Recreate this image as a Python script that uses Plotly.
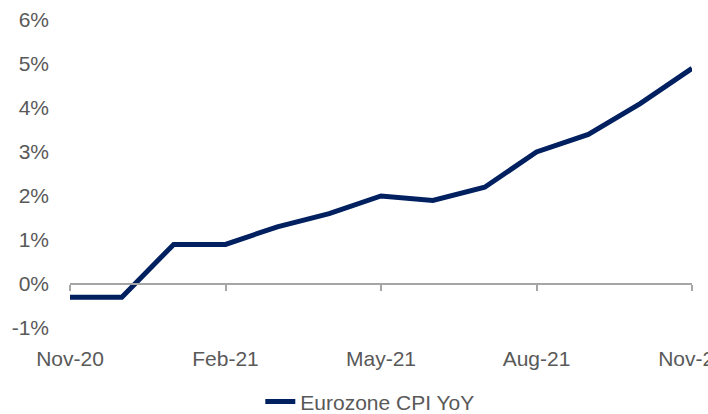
import plotly.graph_objects as go

months = ["Nov-20", "Dec-20", "Jan-21", "Feb-21", "Mar-21", "Apr-21", "May-21",
          "Jun-21", "Jul-21", "Aug-21", "Sep-21", "Oct-21", "Nov-21"]
cpi_yoy = [-0.3, -0.3, 0.9, 0.9, 1.3, 1.6, 2.0, 1.9, 2.2, 3.0, 3.4, 4.1, 4.9]
tick_idx = [0, 3, 6, 9, 12]
tick_labels = [months[i] for i in tick_idx]
y_ticks = [-1, 0, 1, 2, 3, 4, 5, 6]
y_labels = [f"{v}%" for v in y_ticks]

FONT = dict(family="Liberation Sans, Arial, sans-serif", size=21, color="#595959")
x_idx = list(range(len(months)))

fig = go.Figure()
# invisible trace on the zero-line axis so it renders
fig.add_trace(go.Scatter(
    x=[0, 12], y=[0, 0], mode="lines", line=dict(width=0), showlegend=False,
    hoverinfo="skip", xaxis="x2", yaxis="y",
))
fig.add_trace(go.Scatter(
    x=x_idx, y=cpi_yoy, mode="lines", name="Eurozone CPI YoY",
    line=dict(color="#002060", width=5), xaxis="x", yaxis="y",
))

ymin, ymax = -1, 6
fig.update_layout(
    width=708, height=414,
    margin=dict(l=70, r=16, t=20, b=86, autoexpand=False),
    paper_bgcolor="white", plot_bgcolor="white",
    font=FONT,
    showlegend=True,
    legend=dict(orientation="h", x=0.482, xanchor="center", y=-0.24, yanchor="middle",
                font=FONT, bgcolor="rgba(0,0,0,0)"),
    xaxis=dict(range=[0, 12], tickvals=tick_idx, ticktext=tick_labels,
               showgrid=False, zeroline=False, showline=False, ticks="",
               ticklabelstandoff=16, tickfont=FONT, automargin=False,
               ticklabeloverflow="allow"),
    xaxis2=dict(range=[0, 12], overlaying="x", anchor="free",
                position=(0 - ymin) / (ymax - ymin), side="bottom",
                tickvals=tick_idx, showticklabels=False, showgrid=False,
                zeroline=False, showline=True, linecolor="#a6a6a6", linewidth=2,
                ticks="outside", ticklen=6, tickwidth=1.5, tickcolor="#a6a6a6",
                automargin=False),
    yaxis=dict(range=[ymin, ymax], tickvals=y_ticks, ticktext=y_labels,
               showgrid=False, zeroline=False, showline=False, ticks="",
               ticklabelstandoff=20, tickfont=FONT, automargin=False),
)

fig.write_html("out.html", config={"displayModeBar": False},
               post_script="document.body.style.margin='0';document.body.style.overflow='hidden';")
